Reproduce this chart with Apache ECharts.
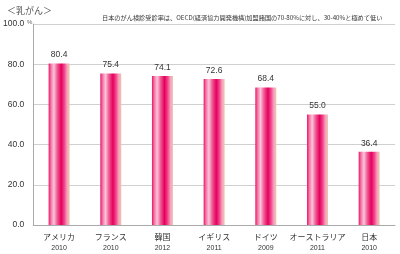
<!DOCTYPE html>
<html><head><meta charset="utf-8">
<script src="https://cdn.jsdelivr.net/npm/echarts@6/dist/echarts.min.js"></script>
<style>html,body{margin:0;padding:0;background:#fff}#c{width:400px;height:254px}</style>
</head><body><div id="c"></div>
<script>
const countries = ['アメリカ','フランス','韓国','イギリス','ドイツ','オーストラリア','日本'];
const years = ['2010','2010','2012','2011','2009','2011','2010'];
const values = [80.4, 75.4, 74.1, 72.6, 68.4, 55.0, 36.4];
const yTicks = [0, 20, 40, 60, 80, 100];

const chart = echarts.init(document.getElementById('c'));
const barColor = new echarts.graphic.LinearGradient(0,0,1,0,[
  {offset:0, color:'#e8176a'},
  {offset:0.12, color:'#f57aa8'},
  {offset:0.25, color:'#fbc6d9'},
  {offset:0.4, color:'#f06099'},
  {offset:0.6, color:'#e5005a'},
  {offset:0.75, color:'#f2458a'},
  {offset:0.88, color:'#f7a0c0'},
  {offset:1, color:'#e8c9a8'}
]);
chart.setOption({
  animation:false,
  title:[
    {text:'＜乳がん＞', left:2, top:1, textStyle:{fontSize:9, fontWeight:'normal', color:'#555', fontFamily:'Noto Sans CJK JP'}},
    {text:'日本のがん検診受診率は、OECD(経済協力開発機構)加盟諸国の70-80%に対し、30-40%と極めて低い', left:97, top:10, textStyle:{fontSize:6.2, fontWeight:'normal', color:'#333', fontFamily:'Noto Sans CJK JP'}}
  ],
  graphic:[{type:'text', left:27, top:19, style:{text:'%', fontSize:6, fill:'#666', fontFamily:'Liberation Sans'}}],
  grid:{left:31, right:5, top:24, bottom:28},
  xAxis:{type:'category', data:countries.map((c,i)=>c+'\n'+years[i]),
    axisLine:{lineStyle:{color:'#aaa'}}, axisTick:{show:false},
    axisLabel:{interval:0, margin:6, lineHeight:12,
      formatter:(v)=>{const p=v.split('\n');return '{a|'+p[0]+'}\n{b|'+p[1]+'}';},
      rich:{a:{fontSize:8,color:'#333',fontFamily:'Noto Sans CJK JP',lineHeight:12},b:{fontSize:7,color:'#333',fontFamily:'Liberation Sans',lineHeight:11}}}},
  yAxis:{type:'value', min:yTicks[0], max:yTicks[yTicks.length-1], interval:20,
    axisLine:{show:true, lineStyle:{color:'#aaa'}}, axisTick:{show:false},
    splitLine:{lineStyle:{color:'#d0d0d0'}},
    axisLabel:{formatter:(v)=>v.toFixed(1), fontSize:8.5, color:'#333', margin:9, fontFamily:'Liberation Sans'}},
  series:[{type:'bar', data:values, barWidth:21, itemStyle:{color:barColor},
    label:{show:true, position:'top', distance:4, formatter:(p)=>p.value.toFixed(1), fontSize:8.5, color:'#333', fontFamily:'Liberation Sans'}}]
});
</script></body></html>
